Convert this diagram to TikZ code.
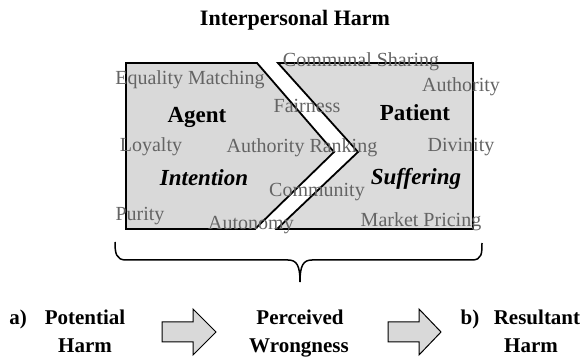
\documentclass[tikz,border=0pt]{standalone}
\usepackage{fontspec}
\setmainfont{Liberation Serif}
\usetikzlibrary{positioning}

\definecolor{shapefill}{RGB}{217,217,217}
\definecolor{foundgray}{RGB}{100,100,100}

\tikzset{every picture/.style={line width=0.75pt}}
\tikzset{
  foundation/.style={anchor=base,inner sep=0pt,text=foundgray,font=\fontsize{20}{24}\selectfont},
  keyword/.style={anchor=base,inner sep=0pt,font=\fontsize{23}{27}\selectfont\bfseries},
  stagetext/.style={anchor=base,inner sep=0pt,font=\fontsize{21}{25}\selectfont\bfseries},
  blockarrow/.style={draw,fill=shapefill,line width=1pt,line join=miter}
}

\begin{document}
\begin{tikzpicture}[x=1pt,y=1pt,yscale=-1,xscale=1]
		\path[use as bounding box] (0,0) rectangle (587,358);

		%Shape: Polygon (agent side)
		\draw [fill=shapefill,line width=1.8] (126,63) -- (257,63) -- (334,152) -- (255,229) -- (126,229) -- cycle ;
		%Shape: Polygon (patient side)
		\draw [fill=shapefill!95!white,line width=1.8] (278,63) -- (473,63) -- (473,229) -- (277,229) -- (358,152) -- cycle ;

		%Shape: Brace
		\draw [line width=1.5] (115,242) .. controls (115,253) and (116,260) .. (126,260) -- (288,260) .. controls (297,260) and (300,266) .. (300,282) ;
		\draw [line width=1.5] (300,282) .. controls (300,266) and (303,260) .. (312,260) -- (472,260) .. controls (482,260) and (482,253) .. (482,243) ;

		%Shape: Block Arrows
		\draw [blockarrow] (162,322) -- (193,322) -- (193,309) -- (216,332) -- (193,355) -- (193,342) -- (162,342) -- cycle ;
		\draw [blockarrow] (388,322) -- (419,322) -- (419,309) -- (441,332) -- (419,355) -- (419,342) -- (388,342) -- cycle ;

		% Text Node
		\node [keyword,font=\fontsize{22}{26}\selectfont\bfseries] (title) at (295,26) {Interpersonal Harm};

		% Text Node
		\node [foundation] (equality) at (190,85) {Equality Matching};
		\node [foundation] (communal) at (361,66.5) {Communal Sharing};
		\node [foundation] (authright) at (461,91.5) {Authority};
		\node [foundation] (fairness) at (307,113) {Fairness};
		\node [foundation] (loyalty) at (151,151.5) {Loyalty};
		\node [foundation] (ranking) at (302,152.5) {Authority Ranking};
		\node [foundation] (divinity) at (461,151.5) {Divinity};
		\node [foundation] (community) at (317,196.5) {Community};
		\node [foundation] (purity) at (140,220.5) {Purity};
		\node [foundation] (autonomy) at (251,230) {Autonomy};
		\node [foundation] (market) at (421,226.5) {Market Pricing};

		% Text Node
		\node [keyword] (agent) at (197,122.5) {Agent};
		\node [keyword] (patient) at (415,120.5) {Patient};
		\node [keyword,font=\fontsize{23}{27}\selectfont\bfseries\itshape] (intention) at (204,186) {Intention};
		\node [keyword,font=\fontsize{23}{27}\selectfont\bfseries\itshape] (suffering) at (416,185) {Suffering};

		% Text Node
		\node [stagetext] (labela) at (18,324.5) {a)};
		\node [stagetext] (potential) at (85,324.5) {Potential};
		\node [stagetext] (potharm) at (85,352.5) {Harm};
		\node [stagetext] (perceived) at (300,324.5) {Perceived};
		\node [stagetext] (wrongness) at (299,352.5) {Wrongness};
		\node [stagetext] (labelb) at (470,324.5) {b)};
		\node [stagetext] (resultant) at (537,324.5) {Resultant};
		\node [stagetext] (resharm) at (531,352.5) {Harm};
	\end{tikzpicture}
\end{document}
